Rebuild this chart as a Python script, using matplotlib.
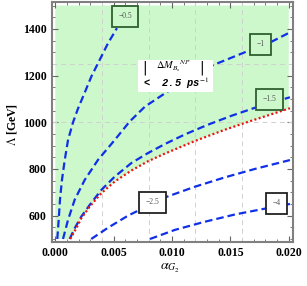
import numpy as np
import matplotlib
matplotlib.use("Agg")
import matplotlib.pyplot as plt
from matplotlib.patches import Rectangle
from matplotlib.ticker import MultipleLocator, FormatStrFormatter

plt.rcParams['mathtext.fontset'] = 'stix'

# contour curves: alpha_G2 vs Lambda [GeV]
a_05 = [0.00017, 0.00029, 0.00040, 0.00057, 0.00081, 0.00109, 0.00152,
        0.00194, 0.00252, 0.00308, 0.00380, 0.00451, 0.00528]
l_05 = [500, 582, 668, 753, 839, 924, 1000, 1058, 1127, 1195, 1267, 1338, 1403]

a_1 = [0.00066, 0.00109, 0.00166, 0.00252, 0.00366, 0.00509, 0.00637,
       0.00768, 0.00940, 0.01111, 0.01353, 0.01625, 0.01853, 0.02010]
l_1 = [500, 582, 668, 753, 839, 924, 1003, 1067, 1124, 1181, 1245, 1300, 1345, 1385]

a_15 = [0.00123, 0.00166, 0.00223, 0.00295, 0.00394, 0.00509, 0.00651,
        0.00794, 0.00940, 0.01111, 0.01310, 0.01511, 0.01710, 0.02010]
l_15 = [500, 546, 596, 646, 710, 767, 825, 868, 907, 948, 990, 1028, 1062, 1107]

a_25 = [0.00308, 0.00451, 0.00623, 0.00940, 0.01197, 0.01453, 0.01710, 0.02010]
l_25 = [500, 548, 600, 678, 724, 764, 800, 838]

a_4 = [0.00811, 0.01025, 0.01282, 0.01539, 0.01796, 0.02010]
l_4 = [500, 539, 574, 605, 630, 650]

# |dM_Bs^NP| = 2.5 ps^-1 boundary
a_lim = [0.00128, 0.00180, 0.00223, 0.00295, 0.00394, 0.00509, 0.00651,
         0.00794, 0.00940, 0.01197, 0.01453, 0.01653, 0.02010]
l_lim = [500, 546, 589, 639, 696, 746, 793, 833, 866, 920, 968, 1002, 1060]

labels = ["\u22120.5", "\u22121", "\u22121.5", "\u22122.5", "\u22124"]
label_a = [0.00598, 0.01759, 0.01836, 0.00835, 0.01896]
label_l = [1454, 1334, 1098, 657, 652]
label_in_green = [True, True, True, False, False]

a_min, a_max = 0.0, 0.020
l_min, l_max = 500, 1500

green = '#ccf8cc'
blue = '#1030e8'

fig = plt.figure(figsize=(3.07, 2.86), dpi=100)
ax = fig.add_axes([0.1678, 0.1538, 0.785, 0.8392])

# allowed region (above red boundary)
poly_a = [a_min, a_lim[0]] + a_lim + [a_max, a_max, a_min]
poly_l = [l_min, l_min] + l_lim + [l_lim[-1], l_max, l_max]
ax.fill(poly_a, poly_l, color=green, lw=0, zorder=1)

# grid lines
for g in [0.004, 0.008, 0.012, 0.016]:
    ax.axvline(g, color='#d0d0d0', lw=0.7, ls=(0, (5, 4)), zorder=2)
for g in [1000, 1250]:
    ax.axhline(g, color='#d0d0d0', lw=0.7, ls=(0, (5, 4)), zorder=2)

for a, l in [(a_05, l_05), (a_1, l_1), (a_15, l_15), (a_25, l_25), (a_4, l_4)]:
    ax.plot(a, l, color=blue, lw=1.6, ls=(0, (3.4, 1.8)), zorder=3)
ax.plot(a_lim, l_lim, color='#ee1111', lw=1.6, ls=(0, (0.9, 1.1)), zorder=3)

for txt, xa, yl, ing in zip(labels, label_a, label_l, label_in_green):
    if ing:
        fc, ec = green, '#2f5f2f'
    else:
        fc, ec = 'white', '#222222'
    ax.text(xa, yl, txt, fontsize=5.5, color='#555555', ha='center', va='center',
            family='Liberation Serif', zorder=5,
            bbox=dict(boxstyle='square,pad=0.85', fc=fc, ec=ec, lw=1.3))

# text block: |dM| < 2.5 ps^-1
ax.add_patch(Rectangle((0.359, 0.625), 0.311, 0.133, transform=ax.transAxes,
                       fc='white', ec='none', zorder=5))
for bx in [0.387, 0.623]:
    ax.text(bx, 0.728, '|', transform=ax.transAxes, fontsize=10,
            ha='center', va='center', zorder=6, family='DejaVu Sans')
ax.text(0.505, 0.732, r'$\Delta M_{B_s}{}^{NP}$', transform=ax.transAxes,
        fontsize=7.5, ha='center', va='center', zorder=6)
ax.text(0.515, 0.660, '<  2.5 ps$^{-1}$', transform=ax.transAxes,
        fontsize=7.5, ha='center', va='center', zorder=6,
        family='Liberation Mono', style='italic', weight='bold')

ax.set_xlim(-0.000325, 0.02032)
ax.set_ylim(487, 1515)

ax.xaxis.set_major_locator(MultipleLocator(0.005))
ax.xaxis.set_minor_locator(MultipleLocator(0.001))
ax.yaxis.set_major_locator(MultipleLocator(200))
ax.yaxis.set_minor_locator(MultipleLocator(50))
ax.xaxis.set_major_formatter(FormatStrFormatter('%.3f'))
ax.tick_params(which='both', direction='in', top=True, right=True,
               color='#666666', labelsize=8.5)
ax.tick_params(which='major', length=4, width=0.8)
ax.tick_params(which='minor', length=2, width=0.6)
for lab in ax.get_xticklabels() + ax.get_yticklabels():
    lab.set_family('Liberation Serif')
    lab.set_weight('bold')
for s in ax.spines.values():
    s.set_color('#808080')
    s.set_linewidth(1.5)

fig.text(170 / 307, 1 - 268 / 286, r'$\alpha_{G_2}$', fontsize=10,
         ha='center', va='center')
fig.text(12 / 307, 1 - 124 / 286, r'$\Lambda$ [GeV]', fontsize=8.5,
         rotation=90, ha='center', va='center', family='Liberation Serif',
         weight='bold')

fig.savefig('out.png', dpi=100)
